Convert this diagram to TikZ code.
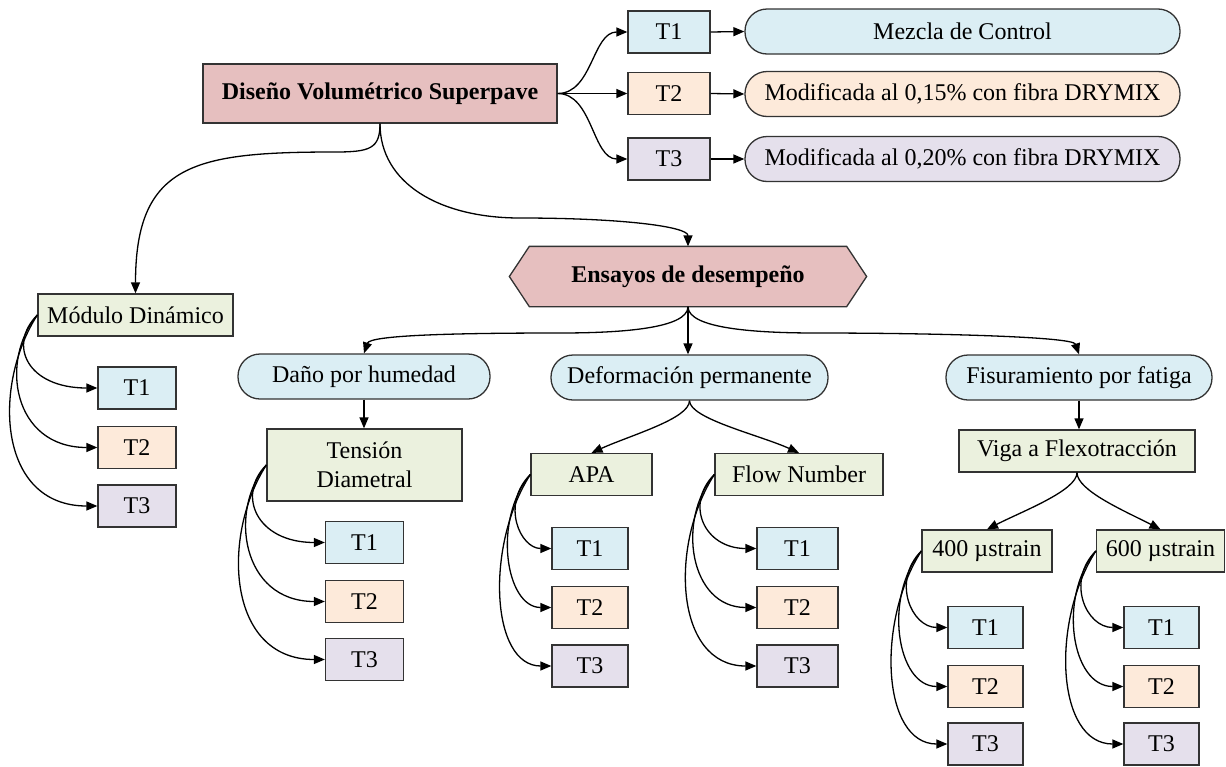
\documentclass[tikz,border=0pt]{standalone}
\usepackage{fontspec}
\setmainfont{Liberation Serif}
\usetikzlibrary{arrows.meta,calc,backgrounds}
\definecolor{cblue}{HTML}{DBEEF4}
\definecolor{cpeach}{HTML}{FDEADA}
\definecolor{clav}{HTML}{E5E0EC}
\definecolor{cgreen}{HTML}{EBF1DE}
\definecolor{cpink}{HTML}{E6BFBF}
\definecolor{cline}{HTML}{333333}
\tikzset{
  box/.style={draw=cline, line width=1.3pt, inner sep=0pt, font=\fontsize{24}{29}\selectfont, text=black, align=center},
  tbox/.style={box, minimum width=78pt, minimum height=42pt},
  tone/.style={tbox, fill=cblue},
  ttwo/.style={tbox, fill=cpeach},
  tthree/.style={tbox, fill=clav},
  pill/.style={box, rounded corners=22pt, minimum height=45pt},
  gbox/.style={box, fill=cgreen, minimum height=42pt},
  conn/.style={draw=black, line width=1.3pt, -{Triangle[length=11pt,width=9pt]}},
}
\newcommand{\myfan}[4]{%
  \draw[conn] (#1.west) .. controls +(-30,30) and ($(#1.west |- #2.west)+(-10,0)$) .. (#2.west);
  \draw[conn] (#1.west) .. controls +(-38,45) and ($(#1.west |- #3.west)+(-25,0)$) .. (#3.west);
  \draw[conn] (#1.west) .. controls +(-45,70) and ($(#1.west |- #4.west)+(-40,0)$) .. (#4.west);
}
\begin{document}
\begin{tikzpicture}[x=1pt, y=-1pt]
\useasboundingbox (0,0) rectangle (1226,766);

% top
\node[box, fill=cpink, minimum width=354pt, minimum height=59pt, font=\fontsize{24}{29}\selectfont\bfseries] (dis) at (380,93.5) {Diseño Volumétrico Superpave};
\node[tone, minimum width=82pt] (a1) at (669,32) {T1};
\node[ttwo, minimum width=82pt] (a2) at (669,93.5) {T2};
\node[tthree, minimum width=82pt] (a3) at (669,159) {T3};
\node[pill, fill=cblue, minimum width=435pt] (m1) at (962.5,31.5) {Mezcla de Control};
\node[pill, fill=cpeach, minimum width=435pt] (m2) at (962.5,94) {Modificada al 0,15\% con fibra DRYMIX};
\node[pill, fill=clav, minimum width=435pt] (m3) at (962.5,159) {Modificada al 0,20\% con fibra DRYMIX};

% ensayos
\node[box, draw=none, minimum width=316pt, minimum height=59pt, font=\fontsize{24}{29}\selectfont\bfseries] (ens) at (688,276.5) {Ensayos de desempeño};
\begin{scope}[on background layer]
\draw[draw=cline, line width=1.3pt, fill=cpink] (ens.north west) -- (ens.north east) -- ([xshift=20pt]ens.east) -- (ens.south east) -- (ens.south west) -- ([xshift=-20pt]ens.west) -- cycle;
\end{scope}

% modulo
\node[gbox, minimum width=195pt] (mod) at (135.5,315) {Módulo Dinámico};
\node[tone] (mt1) at (137,388) {T1};
\node[ttwo] (mt2) at (137,447.5) {T2};
\node[tthree] (mt3) at (137,506) {T3};

% second level
\node[pill, fill=cblue, minimum width=252pt] (dan) at (364,376.5) {Daño por humedad};
\node[pill, fill=cblue, minimum width=277pt] (def) at (689.5,377.5) {Deformación permanente};
\node[pill, fill=cblue, minimum width=266pt] (fis) at (1079,377.5) {Fisuramiento por fatiga};

\node[gbox, minimum width=195pt, minimum height=72pt] (ten) at (364.5,465) {Tensión\\Diametral};
\node[tone] (tt1) at (364.5,542.5) {T1};
\node[ttwo] (tt2) at (364.5,601.5) {T2};
\node[tthree] (tt3) at (364.5,659.5) {T3};

\node[gbox, minimum width=121pt] (apa) at (591.5,474.5) {APA};
\node[tone, minimum width=76pt] (pt1) at (590,548.5) {T1};
\node[ttwo, minimum width=76pt] (pt2) at (590,607.5) {T2};
\node[tthree, minimum width=76pt] (pt3) at (590,666) {T3};

\node[gbox, minimum width=168pt] (flo) at (799,474.5) {Flow Number};
\node[tone, minimum width=81pt] (ft1) at (797.5,548.5) {T1};
\node[ttwo, minimum width=81pt] (ft2) at (797.5,607.5) {T2};
\node[tthree, minimum width=81pt] (ft3) at (797.5,666) {T3};

\node[gbox, minimum width=236pt] (vig) at (1077,451) {Viga a Flexotracción};
\node[gbox, minimum width=130pt] (sa) at (987,551) {400 µstrain};
\node[gbox, minimum width=128pt] (sb) at (1160.5,551) {600 µstrain};
\node[tone, minimum width=75pt] (at1) at (985.5,627.5) {T1};
\node[ttwo, minimum width=75pt] (at2) at (985.5,686.5) {T2};
\node[tthree, minimum width=75pt] (at3) at (985.5,744) {T3};
\node[tone, minimum width=75pt] (bt1) at (1161.5,627.5) {T1};
\node[ttwo, minimum width=75pt] (bt2) at (1161.5,686.5) {T2};
\node[tthree, minimum width=75pt] (bt3) at (1161.5,744) {T3};

% waypoints
\coordinate (w1) at (335,152);
\coordinate (w2) at (520,218);
\coordinate (w3) at (560,333);
\coordinate (w4) at (816,333);

% connectors top
\draw[conn] (dis.east) .. controls +(35,0) and +(-35,0) .. (a1.west);
\draw[conn] (dis.east) -- (a2.west);
\draw[conn] (dis.east) .. controls +(35,0) and +(-35,0) .. (a3.west);
\draw[conn] (a1.east) -- (m1.west);
\draw[conn] (a2.east) -- (m2.west);
\draw[conn] (a3.east) -- (m3.west);

\draw[conn] (dis.south) .. controls +(0,25) and +(35,0) .. (w1) .. controls +(-140,0) and +(0,-130) .. (mod.north);
\draw[conn] (dis.south) .. controls +(0,60) and +(-80,0) .. (w2) .. controls +(100,0) and +(0,-20) .. (ens.north);

\draw[conn] (ens.south) .. controls +(0,22) and +(60,0) .. (w3) .. controls +(-110,0) and +(6,-18) .. (dan.north);
\draw[conn] (ens.south) -- (ens.south |- def.north);
\draw[conn] (ens.south) .. controls +(0,22) and +(-60,0) .. (w4) .. controls +(110,0) and +(-6,-18) .. (fis.north);

\draw[conn] (dan.south) -- (dan.south |- ten.north);
\draw[conn] (fis.south) -- (fis.south |- vig.north);

\draw[conn] (def.south) .. controls +(0,18) and +(40,-18) .. (apa.north);
\draw[conn] (def.south) .. controls +(0,18) and +(-40,-18) .. (flo.north);
\draw[conn] (vig.south) .. controls +(0,18) and +(35,-18) .. (sa.north);
\draw[conn] (vig.south) .. controls +(0,18) and +(-35,-18) .. (sb.north);

% fans
\myfan{mod}{mt1}{mt2}{mt3}
\myfan{ten}{tt1}{tt2}{tt3}
\myfan{apa}{pt1}{pt2}{pt3}
\myfan{flo}{ft1}{ft2}{ft3}
\myfan{sa}{at1}{at2}{at3}
\myfan{sb}{bt1}{bt2}{bt3}
\end{tikzpicture}
\end{document}
